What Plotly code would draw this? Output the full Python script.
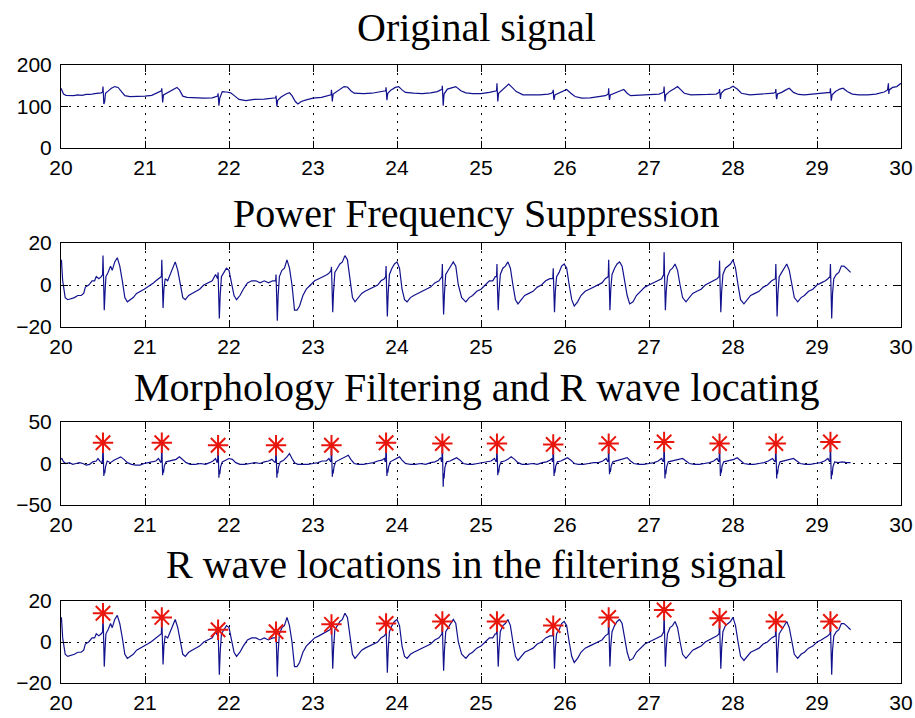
import plotly.graph_objects as go

# ---------------- data ----------------
x_ticks = [20, 21, 22, 23, 24, 25, 26, 27, 28, 29, 30]
titles = ["Original signal", "Power Frequency Suppression",
          "Morphology Filtering and R wave locating",
          "R wave locations in the filtering signal"]

# R wave locations (s) and marker heights
r_times = [20.50, 21.20, 21.87, 22.56, 23.22, 23.87, 24.54, 25.19, 25.86, 26.52, 27.18, 27.84, 28.51, 29.16]
r_morph = [25, 25, 22, 22, 22, 25, 24, 24, 23, 24, 26, 24, 24, 26]
r_filt = [14, 12, 6, 5, 8.6, 9, 10, 10, 8, 12, 15.6, 11.6, 10, 10]

# original signal (time, value)
orig_pts = [
    (20.00, 144), (20.01, 140), (20.03, 130), (20.06, 127), (20.10, 127), (20.15, 126), (20.20, 128), (20.25, 127),
    (20.30, 129), (20.35, 129), (20.40, 131), (20.45, 132), (20.48, 133),
    (20.495, 135), (20.50, 148), (20.505, 128), (20.51, 106), (20.52, 112), (20.53, 132), (20.56, 137), (20.60, 144),
    (20.64, 148), (20.68, 146), (20.72, 136), (20.76, 126), (20.82, 124), (20.90, 124), (21.00, 125), (21.08, 127),
    (21.14, 132), (21.18, 136),
    (21.195, 138), (21.20, 144), (21.205, 125), (21.21, 110), (21.22, 128), (21.26, 132), (21.30, 138), (21.35, 142),
    (21.38, 146), (21.41, 140), (21.45, 125), (21.50, 122), (21.60, 121), (21.70, 120), (21.80, 121), (21.85, 123),
    (21.865, 125), (21.87, 132), (21.875, 110), (21.88, 102), (21.89, 120), (21.92, 136), (21.97, 135), (22.02, 133),
    (22.07, 125), (22.12, 117), (22.20, 114), (22.30, 117), (22.42, 118), (22.50, 119), (22.54, 120),
    (22.555, 121), (22.56, 126), (22.565, 112), (22.57, 100), (22.58, 115), (22.62, 123), (22.68, 130), (22.72, 133),
    (22.75, 126), (22.79, 112), (22.82, 106), (22.86, 112), (22.92, 116), (23.00, 120), (23.10, 122), (23.18, 125),
    (23.20, 127),
    (23.215, 128), (23.22, 140), (23.225, 124), (23.23, 112), (23.24, 130), (23.28, 136), (23.33, 142), (23.37, 148),
    (23.41, 147), (23.45, 138), (23.49, 132), (23.60, 131), (23.70, 132), (23.80, 135), (23.85, 137),
    (23.865, 138), (23.87, 146), (23.875, 126), (23.88, 115), (23.89, 132), (23.93, 140), (23.98, 146), (24.02, 148),
    (24.06, 140), (24.10, 134), (24.20, 132), (24.30, 131), (24.40, 133), (24.48, 136), (24.52, 140),
    (24.535, 141), (24.54, 150), (24.545, 120), (24.55, 102), (24.56, 130), (24.60, 142), (24.65, 145), (24.70, 148),
    (24.76, 138), (24.82, 133), (24.90, 131), (25.00, 131), (25.10, 134), (25.17, 136),
    (25.185, 138), (25.19, 156), (25.195, 125), (25.20, 112), (25.21, 132), (25.25, 140), (25.30, 148), (25.33, 154),
    (25.37, 146), (25.42, 136), (25.50, 128), (25.60, 128), (25.70, 128), (25.80, 130), (25.84, 132),
    (25.855, 135), (25.86, 140), (25.865, 122), (25.87, 116), (25.88, 128), (25.92, 132), (25.98, 138), (26.02, 141),
    (26.07, 132), (26.12, 124), (26.20, 120), (26.30, 121), (26.40, 124), (26.48, 126),
    (26.515, 130), (26.52, 144), (26.525, 125), (26.53, 116), (26.54, 128), (26.60, 134), (26.66, 138), (26.70, 141),
    (26.74, 132), (26.78, 126), (26.85, 127), (26.95, 127), (27.05, 128), (27.12, 130), (27.16, 133),
    (27.175, 135), (27.18, 148), (27.185, 124), (27.19, 112), (27.20, 128), (27.25, 137), (27.30, 143), (27.34, 148),
    (27.38, 140), (27.42, 132), (27.50, 128), (27.60, 128), (27.70, 129), (27.80, 130), (27.82, 132),
    (27.835, 134), (27.84, 142), (27.845, 125), (27.85, 118), (27.86, 132), (27.90, 140), (27.96, 144), (28.00, 149),
    (28.05, 142), (28.10, 132), (28.20, 128), (28.30, 129), (28.40, 130), (28.48, 132),
    (28.505, 134), (28.51, 142), (28.515, 124), (28.52, 118), (28.53, 130), (28.58, 134), (28.63, 140), (28.67, 144),
    (28.72, 134), (28.78, 129), (28.85, 128), (28.95, 130), (29.05, 131), (29.12, 132),
    (29.155, 134), (29.16, 144), (29.165, 122), (29.17, 114), (29.18, 128), (29.22, 136), (29.27, 142), (29.31, 144),
    (29.36, 136), (29.42, 130), (29.50, 128), (29.60, 128), (29.70, 130), (29.80, 135), (29.84, 140), (29.85, 156),
    (29.855, 130), (29.86, 140), (29.90, 146), (29.95, 148), (30.00, 156),
]

# power-frequency suppressed (filtered) signal (time, value)
filt_pts = [
    (20.00, 11), (20.005, 12), (20.02, 2), (20.05, -6), (20.08, -7), (20.12, -6.5), (20.16, -6), (20.20, -5),
    (20.24, -5), (20.27, -4), (20.29, -1), (20.33, 0), (20.37, 2), (20.40, 2), (20.42, 4), (20.45, 3), (20.48, 4),
    (20.495, 5), (20.50, 14), (20.505, 6), (20.515, -12), (20.525, -3), (20.535, 4), (20.56, 6), (20.59, 9),
    (20.61, 7), (20.64, 11), (20.67, 13), (20.70, 9), (20.73, 2), (20.76, -6), (20.79, -8), (20.82, -7), (20.86, -6),
    (20.90, -4), (20.95, -3), (20.99, -2), (21.03, -1), (21.07, 0), (21.10, 1), (21.13, 2), (21.17, 3),
    (21.195, 4), (21.20, 12), (21.205, 4), (21.215, -11), (21.225, -2), (21.24, 3), (21.27, 2), (21.30, 5),
    (21.33, 8), (21.36, 11), (21.39, 7), (21.42, 0), (21.45, -6), (21.48, -7), (21.52, -5), (21.56, -4), (21.60, -3),
    (21.65, -2), (21.70, 0), (21.75, 1), (21.80, 2), (21.84, 5),
    (21.865, 3), (21.87, 6), (21.875, 0), (21.885, -16), (21.895, -5), (21.91, 4), (21.94, 6), (21.97, 8),
    (22.00, 7), (22.03, 1), (22.06, -5), (22.09, -7), (22.13, -5), (22.17, -2), (22.22, 1), (22.27, 2), (22.32, 2),
    (22.37, 1), (22.42, 2), (22.47, 1), (22.52, 2),
    (22.555, 2), (22.56, 5), (22.565, -2), (22.575, -17), (22.585, -5), (22.60, 4), (22.63, 7), (22.66, 8),
    (22.69, 12), (22.72, 8), (22.75, 0), (22.78, -12), (22.81, -12), (22.84, -10), (22.88, -5), (22.92, -2),
    (22.97, 0), (23.02, 2), (23.07, 3), (23.12, 4), (23.17, 5), (23.20, 6),
    (23.215, 7), (23.22, 8.6), (23.225, 2), (23.235, -13), (23.245, -3), (23.26, 6), (23.29, 8), (23.32, 10),
    (23.35, 11), (23.38, 14), (23.41, 12), (23.44, 2), (23.47, -6), (23.50, -8), (23.54, -6), (23.58, -4),
    (23.62, -3), (23.67, -2), (23.72, -1), (23.77, 0), (23.81, 2), (23.85, 3),
    (23.865, 4), (23.87, 9), (23.875, 0), (23.885, -15), (23.895, -4), (23.91, 5), (23.94, 8), (23.97, 10),
    (24.00, 11), (24.03, 8), (24.06, -2), (24.09, -7), (24.12, -8), (24.16, -6), (24.20, -5), (24.25, -4),
    (24.30, -3), (24.35, -2), (24.40, -1), (24.45, 1), (24.50, 2),
    (24.535, 4), (24.54, 10), (24.545, 0), (24.555, -14), (24.565, -4), (24.58, 5), (24.61, 7), (24.64, 9),
    (24.67, 11), (24.70, 9), (24.73, 0), (24.77, -6), (24.82, -8), (24.86, -6), (24.90, -5), (24.95, -3),
    (25.00, -2), (25.05, 0), (25.10, 2), (25.14, 2), (25.17, 4),
    (25.185, 4), (25.19, 10), (25.195, 0), (25.205, -12), (25.215, -3), (25.23, 5), (25.26, 8), (25.29, 9),
    (25.32, 11), (25.35, 8), (25.38, 0), (25.41, -7), (25.44, -9), (25.48, -7), (25.52, -5), (25.57, -4),
    (25.62, -3), (25.67, -1), (25.72, 0), (25.77, 2), (25.82, 3),
    (25.855, 3), (25.86, 8), (25.865, 0), (25.875, -13), (25.885, -3), (25.90, 4), (25.93, 6), (25.96, 9),
    (25.99, 10), (26.02, 8), (26.05, 0), (26.08, -7), (26.11, -10), (26.15, -8), (26.19, -5), (26.24, -3),
    (26.29, -2), (26.34, -1), (26.39, 0), (26.44, 1), (26.48, 3),
    (26.515, 4), (26.52, 12), (26.525, 2), (26.535, -12), (26.545, -2), (26.56, 5), (26.59, 8), (26.62, 10),
    (26.65, 11), (26.68, 9), (26.71, 2), (26.74, -5), (26.77, -9), (26.81, -8), (26.85, -5), (26.90, -3),
    (26.95, -1), (27.00, 0), (27.05, 1), (27.10, 2), (27.15, 3),
    (27.175, 5), (27.18, 15.6), (27.185, 5), (27.195, -12), (27.205, -3), (27.22, 4), (27.25, 7), (27.28, 8),
    (27.31, 10), (27.34, 7), (27.37, 0), (27.40, -6), (27.44, -8), (27.48, -6), (27.52, -4), (27.57, -3),
    (27.62, -2), (27.67, 0), (27.72, 1), (27.77, 2), (27.81, 3),
    (27.835, 4), (27.84, 11.6), (27.845, 2), (27.855, -13), (27.865, -3), (27.88, 5), (27.91, 8), (27.94, 9),
    (27.97, 10), (28.00, 12), (28.03, 8), (28.06, 0), (28.09, -7), (28.13, -9), (28.17, -7), (28.21, -5),
    (28.26, -4), (28.31, -3), (28.36, -1), (28.41, 0), (28.46, 2),
    (28.505, 3), (28.51, 10), (28.515, 0), (28.525, -15), (28.535, -4), (28.55, 4), (28.58, 6), (28.61, 8),
    (28.64, 10), (28.67, 7), (28.70, 0), (28.73, -6), (28.77, -8), (28.81, -6), (28.85, -5), (28.90, -3),
    (28.95, -2), (29.00, 0), (29.05, 1), (29.10, 2), (29.13, 3),
    (29.155, 4), (29.16, 10), (29.165, 0), (29.175, -16), (29.185, -4), (29.20, 3), (29.23, 5), (29.26, 6),
    (29.29, 9), (29.32, 9), (29.35, 8), (29.38, 7), (29.40, 6),
]

# morphology-filtered signal (time, value)
morph_pts = [
    (20.00, 5), (20.01, 6), (20.03, 2), (20.06, 0), (20.10, 1), (20.14, -1), (20.18, 0), (20.22, 1), (20.26, 0),
    (20.30, -2), (20.34, -1), (20.38, 2), (20.42, 3), (20.44, 6), (20.47, 2), (20.49, 1),
    (20.495, 5), (20.50, 25), (20.505, 4), (20.51, -15), (20.515, -8), (20.52, -12), (20.53, -4), (20.55, 3),
    (20.59, 1), (20.63, 4), (20.67, 6), (20.71, 8), (20.75, 5), (20.79, 1), (20.84, -1), (20.89, -2), (20.94, -2),
    (20.99, 0), (21.04, 1), (21.09, 2), (21.13, 3), (21.16, 6), (21.18, 2), (21.19, 1),
    (21.195, 4), (21.20, 25), (21.205, 3), (21.21, -14), (21.215, -7), (21.22, -11), (21.23, -3), (21.25, 2),
    (21.29, 3), (21.33, 4), (21.37, 5), (21.41, 8), (21.45, 4), (21.49, 1), (21.54, -1), (21.60, -1), (21.66, 0),
    (21.72, -1), (21.77, 1), (21.81, 3), (21.84, 6), (21.855, 2), (21.86, 1),
    (21.865, 4), (21.87, 22), (21.875, 2), (21.88, -17), (21.885, -8), (21.89, -13), (21.90, -4), (21.92, 2),
    (21.96, 4), (22.00, 6), (22.04, 5), (22.08, 1), (22.13, -1), (22.19, -1), (22.25, 0), (22.31, 1), (22.37, 0),
    (22.42, 2), (22.47, 3), (22.51, 5), (22.54, 2), (22.55, 1),
    (22.555, 4), (22.56, 22), (22.565, 2), (22.57, -17), (22.575, -9), (22.58, -12), (22.59, -4), (22.61, 2),
    (22.65, 4), (22.69, 8), (22.72, 12), (22.75, 6), (22.78, 1), (22.82, -1), (22.88, -1), (22.94, -1), (23.00, 0),
    (23.06, 1), (23.11, 3), (23.16, 3), (23.19, 6), (23.21, 2),
    (23.215, 4), (23.22, 22), (23.225, 2), (23.23, -16), (23.235, -8), (23.24, -12), (23.25, -4), (23.27, 2),
    (23.31, 4), (23.35, 6), (23.39, 8), (23.42, 10), (23.45, 5), (23.49, 0), (23.54, -1), (23.60, -1), (23.66, 0),
    (23.72, 1), (23.77, 3), (23.82, 4), (23.85, 6), (23.86, 2),
    (23.865, 4), (23.87, 25), (23.875, 3), (23.88, -15), (23.885, -7), (23.89, -11), (23.90, -4), (23.92, 2),
    (23.96, 4), (24.00, 6), (24.03, 8), (24.06, 4), (24.10, 0), (24.16, -1), (24.22, -1), (24.28, 0), (24.34, -1),
    (24.40, 1), (24.45, 2), (24.49, 4), (24.52, 7), (24.53, 2),
    (24.535, 4), (24.54, 24), (24.545, 2), (24.55, -28), (24.555, -12), (24.56, -18), (24.57, -5), (24.59, 2),
    (24.63, 3), (24.67, 5), (24.71, 7), (24.75, 4), (24.79, 0), (24.84, -1), (24.90, -1), (24.96, 0), (25.02, 1),
    (25.07, 2), (25.12, 3), (25.16, 6), (25.18, 2),
    (25.185, 4), (25.19, 24), (25.195, 3), (25.20, -14), (25.205, -7), (25.21, -11), (25.22, -3), (25.24, 2),
    (25.28, 3), (25.32, 5), (25.36, 8), (25.40, 5), (25.44, 1), (25.49, -1), (25.55, -1), (25.61, 0), (25.67, -1),
    (25.73, 1), (25.78, 2), (25.82, 4), (25.845, 6), (25.85, 2),
    (25.855, 4), (25.86, 23), (25.865, 3), (25.87, -15), (25.875, -7), (25.88, -11), (25.89, -3), (25.91, 2),
    (25.95, 3), (25.99, 5), (26.03, 7), (26.07, 4), (26.11, 0), (26.16, -1), (26.22, -1), (26.28, 0), (26.34, 1),
    (26.40, 1), (26.45, 3), (26.49, 6), (26.51, 2),
    (26.515, 4), (26.52, 24), (26.525, 3), (26.53, -13), (26.535, -6), (26.54, -10), (26.55, -3), (26.57, 2),
    (26.61, 3), (26.65, 4), (26.69, 5), (26.74, 7), (26.78, 3), (26.82, 0), (26.88, -1), (26.94, -1), (27.00, 0),
    (27.06, 1), (27.11, 3), (27.15, 6), (27.17, 2),
    (27.175, 4), (27.18, 26), (27.185, 3), (27.19, -18), (27.195, -8), (27.20, -13), (27.21, -4), (27.23, 2),
    (27.27, 3), (27.31, 4), (27.36, 5), (27.40, 6), (27.44, 3), (27.48, 0), (27.54, -1), (27.60, -1), (27.66, 0),
    (27.72, 1), (27.77, 3), (27.81, 6), (27.83, 2),
    (27.835, 4), (27.84, 24), (27.845, 3), (27.85, -15), (27.855, -7), (27.86, -11), (27.87, -3), (27.89, 2),
    (27.93, 3), (27.97, 4), (28.01, 5), (28.05, 7), (28.09, 3), (28.13, 0), (28.19, -1), (28.25, -1), (28.31, 0),
    (28.37, 1), (28.42, 3), (28.47, 6), (28.50, 2),
    (28.505, 4), (28.51, 24), (28.515, 3), (28.52, -18), (28.525, -8), (28.53, -13), (28.54, -4), (28.56, 2),
    (28.60, 3), (28.64, 4), (28.68, 5), (28.72, 6), (28.76, 3), (28.80, 0), (28.86, -1), (28.92, -1), (28.98, 0),
    (29.04, 1), (29.09, 3), (29.13, 6), (29.15, 2),
    (29.155, 4), (29.16, 26), (29.165, 3), (29.17, -19), (29.175, -9), (29.18, -14), (29.19, -4), (29.21, 2),
    (29.25, 1), (29.30, 2), (29.35, 1), (29.40, 1),
]

# ---------------- figure ----------------
W, H = 915, 718
BLUE = "#12128e"
RED = "#e8160c"
panels_px = [(65, 148), (243, 327), (422, 505), (601, 683)]   # top/bottom in screen pixels
left_px, right_px = 61, 901
y_ranges = [[0, 200], [-20, 20], [-50, 50], [-20, 20]]
y_ticks = [[0, 100, 200], [-20, 0, 20], [-50, 0, 50], [-20, 0, 20]]
title_mid_px = [28, 214, 388, 564]

t_orig = [p[0] for p in orig_pts]
v_orig = [p[1] for p in orig_pts]
t_filt = [p[0] for p in filt_pts]
v_filt = [p[1] for p in filt_pts]
t_morph = [p[0] for p in morph_pts]
v_morph = [p[1] for p in morph_pts]

line = dict(color=BLUE, width=1.2)
star = dict(symbol="asterisk-open", size=17, line=dict(color=RED, width=2), color=RED)

fig = go.Figure()
fig.add_trace(go.Scatter(x=t_orig, y=v_orig, mode="lines", line=line, xaxis="x", yaxis="y"))
fig.add_trace(go.Scatter(x=t_filt, y=v_filt, mode="lines", line=line, xaxis="x2", yaxis="y2"))
fig.add_trace(go.Scatter(x=t_morph, y=v_morph, mode="lines", line=line, xaxis="x3", yaxis="y3"))
fig.add_trace(go.Scatter(x=r_times, y=r_morph, mode="markers", marker=star, xaxis="x3", yaxis="y3"))
fig.add_trace(go.Scatter(x=t_filt, y=v_filt, mode="lines", line=line, xaxis="x4", yaxis="y4"))
fig.add_trace(go.Scatter(x=r_times, y=r_filt, mode="markers", marker=star, xaxis="x4", yaxis="y4"))

tickfont = dict(family="Liberation Sans, Arial, sans-serif", size=21, color="black")
common = dict(showline=True, linecolor="black", linewidth=1, mirror="ticks", ticks="inside", ticklen=7,
              tickcolor="black", tickwidth=1, showgrid=True, gridcolor="black", gridwidth=1,
              griddash="2px,6px", zeroline=False, tickfont=tickfont, automargin=False)


def px_x(x):
    return x / W


def px_y(y):
    return 1 - y / H


layout = dict(width=W, height=H, margin=dict(l=0, r=0, t=0, b=0, pad=0), paper_bgcolor="white",
              plot_bgcolor="white", showlegend=False, annotations=[])
for i, (top, bot) in enumerate(panels_px):
    sfx = "" if i == 0 else str(i + 1)
    layout["xaxis" + sfx] = dict(common, domain=[px_x(left_px), px_x(right_px)], range=[20, 30],
                                 tickvals=x_ticks, anchor="y" + sfx, ticklabelstandoff=1)
    layout["yaxis" + sfx] = dict(common, domain=[px_y(bot), px_y(top)], range=y_ranges[i],
                                 tickvals=y_ticks[i], anchor="x" + sfx, ticklabelstandoff=4)
    layout["annotations"].append(dict(text=titles[i], x=px_x(476), y=px_y(title_mid_px[i]), xref="paper",
                                      yref="paper", xanchor="center", yanchor="middle", showarrow=False,
                                      font=dict(family="Liberation Serif, Times New Roman, serif", size=40,
                                                color="black")))
fig.update_layout(**layout)
# remove the default 8px page margin so the 915x718 figure fills the window exactly
fig.write_html("out.html", config={"displayModeBar": False},
               post_script="document.body.style.margin='0';document.body.style.overflow='hidden';")
